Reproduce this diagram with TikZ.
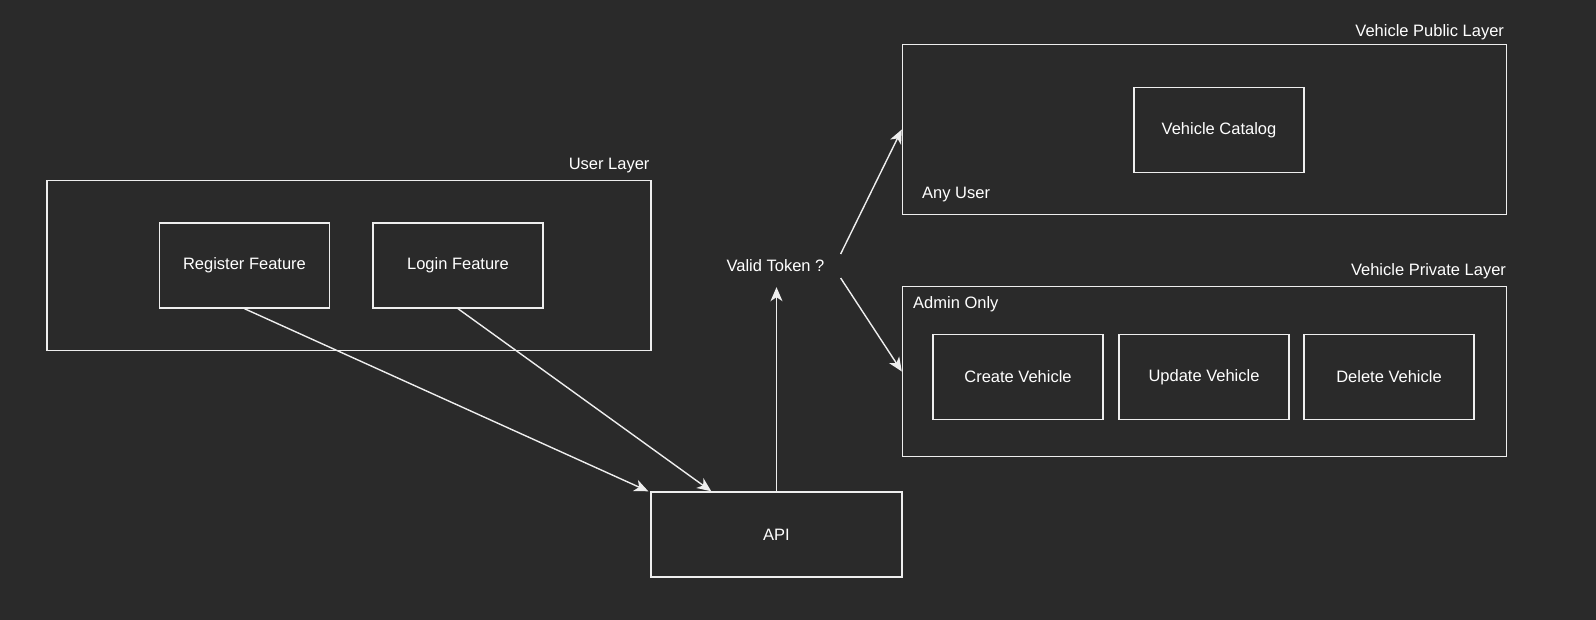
\documentclass[tikz,border=0pt]{standalone}
\usepackage{fontspec}
\setmainfont{Liberation Sans}
\usetikzlibrary{arrows.meta,calc}
\definecolor{bgc}{HTML}{2A2A2A}
\definecolor{lnc}{HTML}{EEEEEE}
\begin{document}
\begin{tikzpicture}[x=1pt,y=-1pt,
  font=\fontsize{16.5}{19}\selectfont,
  box/.style={draw=lnc,line width=1.4pt,rectangle,inner sep=0pt,text=white},
  feat/.style={box,minimum width=170pt,minimum height=85pt},
  layer/.style={box,minimum width=604pt,minimum height=170pt},
  lbl/.style={text=white,inner sep=0pt},
  conn/.style={draw=lnc,line width=1.4pt,-{Stealth[length=14pt,width=12pt,inset=4pt]}}]
\fill[bgc] (0,0) rectangle (1596,620);
\useasboundingbox (0,0) rectangle (1596,620);
% layers
\node[layer] (ul) at (349,265.5) {};
\node[lbl,anchor=base east] (ullbl) at ([xshift=-2pt,yshift=10pt]ul.north east) {User Layer};
\node[layer] (pub) at (1204.5,129.5) {};
\node[lbl,anchor=base east] (publbl) at ([xshift=-3pt,yshift=7pt]pub.north east) {Vehicle Public Layer};
\node[lbl,anchor=base west] (anyu) at (922,199) {Any User};
\node[layer] (priv) at (1204.5,371.5) {};
\node[lbl,anchor=base east] (privlbl) at ([xshift=-1pt,yshift=10pt]priv.north east) {Vehicle Private Layer};
\node[lbl,anchor=base west] (admin) at (913,309) {Admin Only};
% features
\node[feat] (reg) at (244.5,265.5) {Register Feature};
\node[feat] (login) at (458,265.5) {Login Feature};
\node[feat] (cat) at (1219,130) {Vehicle Catalog};
\node[feat] (create) at (1018,377) {Create Vehicle};
\node[feat] (update) at (1204,377) {Update Vehicle};
\node[feat] (delete) at (1389,377) {Delete Vehicle};
\node[box,minimum width=251pt,minimum height=85pt] (api) at (776.5,534.5) {API};
\node[lbl,inner xsep=16pt,minimum height=42pt] (vt) at (775.5,266) {Valid Token ?};
% connectors
\draw[conn] (reg.south) -- ([xshift=-2pt]api.north west);
\draw[conn] (login.south) -- ([xshift=61pt]api.north west);
\draw[conn] (api.north) -- (api.north |- vt.south);
\draw[conn] ([yshift=12pt]vt.east) -- (pub.west);
\draw[conn] ([yshift=-12pt]vt.east) -- (priv.west);
\end{tikzpicture}
\end{document}
